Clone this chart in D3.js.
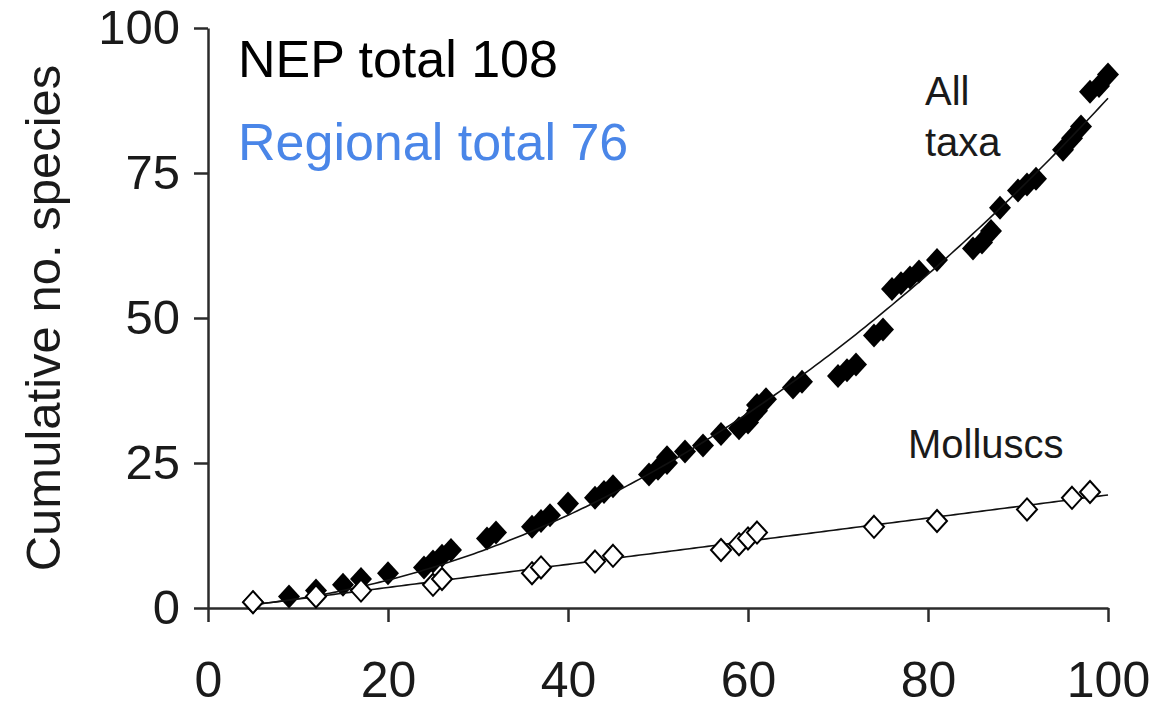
<!DOCTYPE html>
<html>
<head>
<meta charset="utf-8">
<script src="https://cdn.jsdelivr.net/npm/d3@7"></script>
<style>
  html, body { margin: 0; padding: 0; background: #fff; }
  svg { display: block; font-family: "Liberation Sans", Arial, sans-serif; }
</style>
</head>
<body>
<svg id="chart" width="1153" height="707"></svg>
<script>
// Cumulative species counts — all taxa (filled) and molluscs (open)
const allTaxaX = [5, 9, 12, 15, 17, 20, 24, 25, 26, 27, 31, 32, 36, 37, 38, 40,
  43, 44, 45, 49, 50, 51, 51, 53, 55, 57, 59, 60, 61, 61, 62, 65, 66,
  70, 71, 72, 74, 75, 76, 77, 78, 79, 81, 85, 86, 87, 88, 90, 91, 92,
  95, 96, 97, 98, 99, 100];
const allTaxaY = [1, 2, 3, 4, 5, 6, 7, 8, 9, 10, 12, 13, 14, 15, 16, 18,
  19, 20, 21, 23, 24, 25, 26, 27, 28, 30, 31, 32, 34, 35, 36, 38, 39,
  40, 41, 42, 47, 48, 55, 56, 57, 58, 60, 62, 63, 65, 69, 72, 73, 74,
  79, 81, 83, 89, 90, 92];

const molluscX = [5, 12, 17, 25, 26, 36, 37, 43, 45, 57, 59, 60, 61, 74, 81, 91, 96, 98];
const molluscY = [1, 2, 3, 4, 5, 6, 7, 8, 9, 10, 11, 12, 13, 14, 15, 17, 19, 20];

const xTicks = [0, 20, 40, 60, 80, 100];
const yTicks = [0, 25, 50, 75, 100];
const fitRange = [5, 100];

const svg = d3.select("#chart");
const x = d3.scaleLinear().domain([0, 100]).range([208, 1108]);
const y = d3.scaleLinear().domain([0, 100]).range([608, 28]);

// Least-squares fit on the given powers of x (e.g. [1,2] = quadratic through origin)
function polyFit(xs, ys, powers) {
  const n = powers.length;
  const A = Array.from({length: n}, () => new Array(n + 1).fill(0));
  xs.forEach((xv, i) => {
    for (let r = 0; r < n; r++) {
      for (let c = 0; c < n; c++) A[r][c] += Math.pow(xv, powers[r] + powers[c]);
      A[r][n] += ys[i] * Math.pow(xv, powers[r]);
    }
  });
  for (let i = 0; i < n; i++) {
    let p = i;
    for (let k = i + 1; k < n; k++) if (Math.abs(A[k][i]) > Math.abs(A[p][i])) p = k;
    [A[i], A[p]] = [A[p], A[i]];
    for (let k = 0; k < n; k++) {
      if (k === i) continue;
      const f = A[k][i] / A[i][i];
      for (let c = i; c <= n; c++) A[k][c] -= f * A[i][c];
    }
  }
  const coef = A.map((row, i) => row[n] / row[i]);
  return xv => coef.reduce((s, cf, i) => s + cf * Math.pow(xv, powers[i]), 0);
}

// Axes
const axisColor = "#2b2b2b";
const xAxis = d3.axisBottom(x).tickValues(xTicks).tickSize(14).tickSizeOuter(0);
const yAxis = d3.axisLeft(y).tickValues(yTicks).tickSize(14).tickSizeOuter(0).tickPadding(14);

const gx = svg.append("g").attr("transform", "translate(0,608)").call(xAxis);
const gy = svg.append("g").attr("transform", "translate(208,0)").call(yAxis);
[gx, gy].forEach(g => {
  g.select(".domain").attr("stroke", axisColor).attr("stroke-width", 2.5);
  g.selectAll(".tick line").attr("stroke", axisColor).attr("stroke-width", 2.5);
  g.selectAll(".tick text").attr("fill", "#1a1a1a")
    .style("font-family", "'Liberation Sans', Arial, sans-serif");
});
gy.selectAll(".tick text").style("font-size", "49px");
gx.selectAll(".tick text").style("font-size", "50px").attr("y", 89).attr("dy", 0);

svg.append("text")
  .attr("transform", "translate(60,318) rotate(-90)")
  .attr("text-anchor", "middle")
  .attr("fill", "#1a1a1a")
  .style("font-size", "49px")
  .text("Cumulative no. species");

// Trend curves
const line = d3.line().x(d => x(d[0])).y(d => y(d[1]));
function trend(xs, ys, powers) {
  const f = polyFit(xs, ys, powers);
  const pts = d3.range(fitRange[0], fitRange[1] + 0.01, 0.5).map(v => [v, f(v)]);
  svg.append("path").datum(pts).attr("d", line)
    .attr("fill", "none").attr("stroke", "#111").attr("stroke-width", 1.6);
}

// Diamond markers
const diamondFilled = "M0,-12L11,0L0,12L-11,0Z";
const diamondOpen = "M0,-11L10,0L0,11L-10,0Z";

const allPts = allTaxaX.map((v, i) => [v, allTaxaY[i]]);
const molPts = molluscX.map((v, i) => [v, molluscY[i]]);

svg.append("g").selectAll("path").data(allPts).join("path")
  .attr("d", diamondFilled)
  .attr("transform", d => `translate(${x(d[0])},${y(d[1])})`)
  .attr("fill", "#000");

trend(allTaxaX, allTaxaY, [1, 2]);
trend(molluscX, molluscY, [0, 1]);

svg.append("g").selectAll("path").data(molPts).join("path")
  .attr("d", diamondOpen)
  .attr("transform", d => `translate(${x(d[0])},${y(d[1])})`)
  .attr("fill", "#fff").attr("stroke", "#000").attr("stroke-width", 2);

// Series labels
const lab = svg.append("g").attr("fill", "#1a1a1a").style("font-size", "40px");
lab.append("text").attr("x", 925).attr("y", 105).text("All");
lab.append("text").attr("x", 925).attr("y", 156).text("taxa");
lab.append("text").attr("x", 908).attr("y", 458).text("Molluscs");

// Totals
svg.append("text").attr("x", 238).attr("y", 77).attr("fill", "#000")
  .style("font-size", "52px").text("NEP total 108");
svg.append("text").attr("x", 238).attr("y", 160).attr("fill", "#4a86e8")
  .style("font-size", "52px").text("Regional total 76");
</script>
</body>
</html>
